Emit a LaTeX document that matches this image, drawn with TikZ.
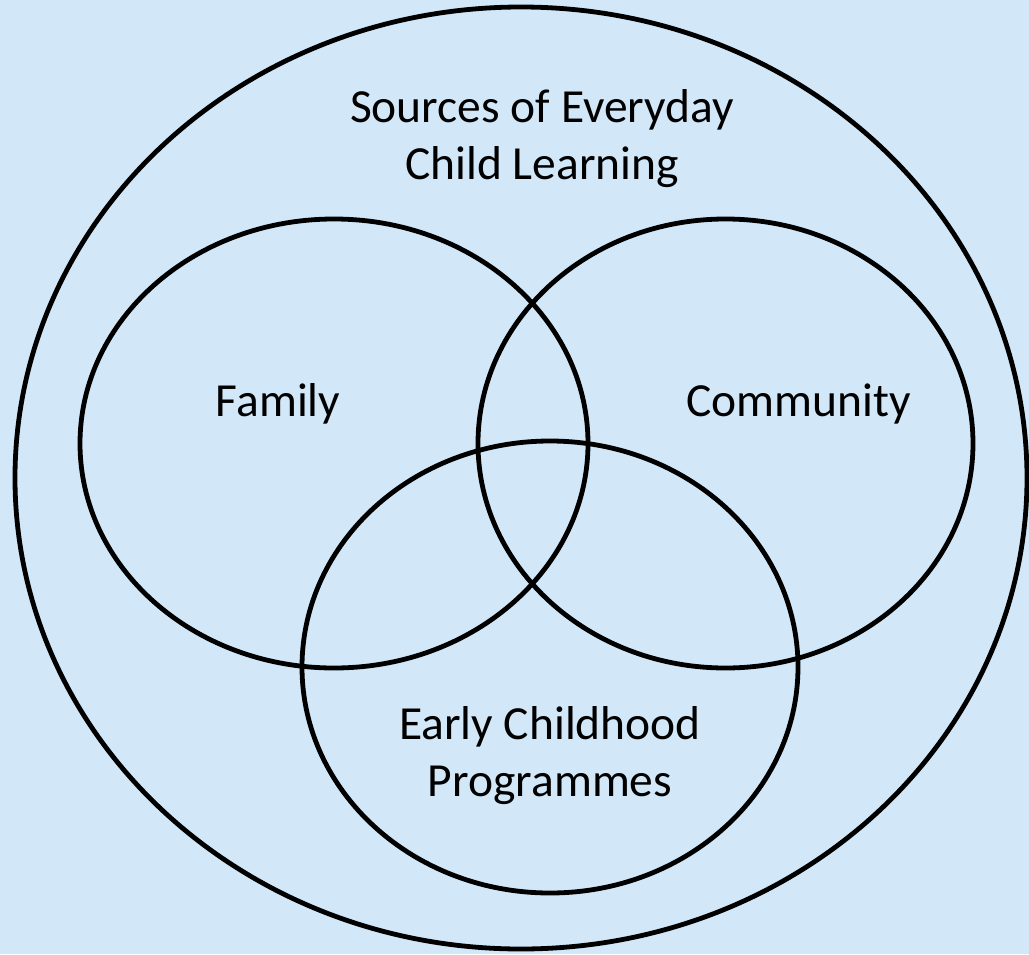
\documentclass[tikz,border=0pt]{standalone}
\usepackage{fontspec}
\setmainfont{Carlito}
\usepackage{tikz}
\definecolor{bgblue}{RGB}{210,232,248}

\begin{document}
\begin{tikzpicture}[x=1pt,y=-1pt,
    ring/.style={line width=4.8pt},
    venntext/.style={font=\fontsize{47.5}{57}\selectfont, align=center, anchor=base}]
    % draw background
    \fill[bgblue] (0,0) rectangle (1029,954);
    \useasboundingbox (0,0) rectangle (1029,954);

    % draw outer ellipse
    \draw[ring] (521,478) ellipse (506 and 471);

    % draw inner ellipses
    \draw[ring] (334,443.5) ellipse (254 and 224.5);
    \draw[ring] (725.5,443.5) ellipse (247.5 and 224.5);
    \draw[ring] (550,667) ellipse (248 and 226);

    % draw labels (base = last line)
    \node[venntext] (sources) at (542,179) {Sources of Everyday\\Child Learning};
    \node[venntext] (family) at (278,416) {Family};
    \node[venntext] (community) at (798.5,416) {Community};
    \node[venntext] (early) at (550,796) {Early Childhood\\Programmes};
\end{tikzpicture}
\end{document}
